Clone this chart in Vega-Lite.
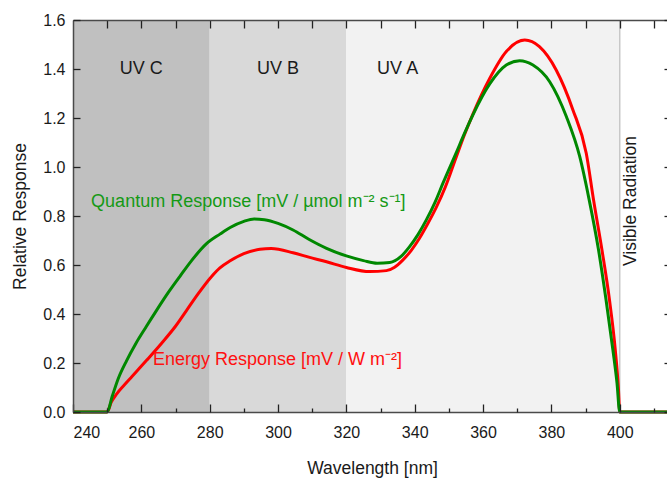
{
  "$schema": "https://vega.github.io/schema/vega-lite/v6.json",
  "width": 598,
  "height": 392,
  "autosize": {"type": "none"},
  "padding": {"left": 73, "top": 20, "right": 0, "bottom": 66},
  "background": "white",
  "config": {
    "view": {"stroke": null},
    "font": "Liberation Sans",
    "axis": {
      "domainColor": "#4a4a4a",
      "domainWidth": 1.5,
      "tickColor": "#222222",
      "tickWidth": 1.3,
      "labelFont": "Liberation Sans",
      "labelFontSize": 16,
      "labelColor": "#1a1a1a",
      "titleFont": "Liberation Sans",
      "titleFontSize": 17.5,
      "titleFontWeight": "normal",
      "titleColor": "#1a1a1a",
      "grid": false
    }
  },
  "datasets": {
    "bands": [
      {"band": "UV C", "start": 240, "end": 280},
      {"band": "UV B", "start": 280, "end": 320},
      {"band": "UV A", "start": 320, "end": 400}
    ],
    "energy": [
      {"nm": 240, "val": 0}, {"nm": 250, "val": 0}, {"nm": 251.2, "val": 0.04}, {"nm": 252.8, "val": 0.074},
      {"nm": 255, "val": 0.11}, {"nm": 257.2, "val": 0.144}, {"nm": 261.6, "val": 0.212}, {"nm": 266, "val": 0.282},
      {"nm": 270, "val": 0.35}, {"nm": 273.2, "val": 0.414}, {"nm": 276.6, "val": 0.482}, {"nm": 280.5, "val": 0.552},
      {"nm": 283, "val": 0.588}, {"nm": 286, "val": 0.617}, {"nm": 290, "val": 0.646}, {"nm": 294.7, "val": 0.664},
      {"nm": 298, "val": 0.667}, {"nm": 304.4, "val": 0.65}, {"nm": 309, "val": 0.632}, {"nm": 314.2, "val": 0.613},
      {"nm": 320, "val": 0.59}, {"nm": 326.8, "val": 0.573}, {"nm": 331.7, "val": 0.577}, {"nm": 334, "val": 0.59},
      {"nm": 336.5, "val": 0.62}, {"nm": 339, "val": 0.66}, {"nm": 341.4, "val": 0.709}, {"nm": 343.8, "val": 0.768},
      {"nm": 346.3, "val": 0.835}, {"nm": 349, "val": 0.92}, {"nm": 352, "val": 1.035}, {"nm": 354.5, "val": 1.13},
      {"nm": 357, "val": 1.215}, {"nm": 361.9, "val": 1.36}, {"nm": 366.8, "val": 1.471}, {"nm": 372.2, "val": 1.518},
      {"nm": 376.5, "val": 1.491}, {"nm": 381.4, "val": 1.396}, {"nm": 386.3, "val": 1.233}, {"nm": 390.2, "val": 1.056},
      {"nm": 392.4, "val": 0.86}, {"nm": 394.8, "val": 0.661}, {"nm": 397, "val": 0.457}, {"nm": 398.7, "val": 0.253},
      {"nm": 399.6, "val": 0.1}, {"nm": 400, "val": 0}, {"nm": 415, "val": 0}
    ],
    "quantum": [
      {"nm": 240, "val": 0}, {"nm": 250, "val": 0}, {"nm": 251.5, "val": 0.065}, {"nm": 253.2, "val": 0.135},
      {"nm": 255.7, "val": 0.21}, {"nm": 258.4, "val": 0.28}, {"nm": 261.5, "val": 0.35}, {"nm": 264.5, "val": 0.416},
      {"nm": 268, "val": 0.49}, {"nm": 271.3, "val": 0.554}, {"nm": 274.7, "val": 0.618}, {"nm": 279, "val": 0.686},
      {"nm": 283, "val": 0.726}, {"nm": 286, "val": 0.753}, {"nm": 290, "val": 0.778}, {"nm": 293, "val": 0.788},
      {"nm": 296, "val": 0.785}, {"nm": 300, "val": 0.77}, {"nm": 304.4, "val": 0.743}, {"nm": 309, "val": 0.705},
      {"nm": 314.2, "val": 0.668}, {"nm": 320, "val": 0.637}, {"nm": 325, "val": 0.618}, {"nm": 329, "val": 0.607},
      {"nm": 332.7, "val": 0.61}, {"nm": 336, "val": 0.635}, {"nm": 338.5, "val": 0.675}, {"nm": 341, "val": 0.725},
      {"nm": 343.4, "val": 0.784}, {"nm": 346, "val": 0.858}, {"nm": 348.3, "val": 0.935}, {"nm": 352.2, "val": 1.06},
      {"nm": 354.5, "val": 1.135}, {"nm": 357, "val": 1.212}, {"nm": 361.9, "val": 1.338}, {"nm": 366.8, "val": 1.416},
      {"nm": 370.7, "val": 1.434}, {"nm": 374.6, "val": 1.416}, {"nm": 379.5, "val": 1.348}, {"nm": 384.4, "val": 1.205},
      {"nm": 388.3, "val": 1.042}, {"nm": 391, "val": 0.87}, {"nm": 393.8, "val": 0.661}, {"nm": 396, "val": 0.457},
      {"nm": 398, "val": 0.253}, {"nm": 399.2, "val": 0.118}, {"nm": 400, "val": 0}, {"nm": 415, "val": 0}
    ]
  },
  "layer": [
    {
      "data": {"name": "bands"},
      "mark": {"type": "rect"},
      "encoding": {
        "x": {
          "field": "start", "type": "quantitative",
          "scale": {"domain": [240, 415], "nice": false, "zero": false},
          "axis": {
            "orient": "bottom", "zindex": 1,
            "values": [240, 260, 280, 300, 320, 340, 360, 380, 400],
            "ticks": false, "labelPadding": 12,
            "title": "Wavelength [nm]", "titleY": 56, "titleBaseline": "middle", "domain": true
          }
        },
        "x2": {"field": "end"},
        "color": {
          "field": "band", "type": "nominal",
          "scale": {"domain": ["UV C", "UV B", "UV A"], "range": ["#c0c0c0", "#d9d9d9", "#f2f2f2"]},
          "legend": null
        }
      }
    },
    {
      "data": {"values": [{"edge": 400}]},
      "mark": {"type": "rule", "color": "#c8c8c8", "strokeWidth": 1.5},
      "encoding": {
        "x": {
          "field": "edge", "type": "quantitative",
          "scale": {"domain": [240, 415], "nice": false, "zero": false},
          "axis": {
            "orient": "top", "zindex": 1,
            "values": [250, 260, 270, 280, 290, 300, 310, 320, 330, 340, 350, 360, 370, 380, 390, 400, 410],
            "tickSize": -8, "labels": false, "title": null, "domain": true
          }
        }
      }
    },
    {
      "data": {"name": "energy"},
      "mark": {"type": "line", "color": "#ff0000", "strokeWidth": 3, "interpolate": "monotone"},
      "encoding": {
        "x": {
          "field": "nm", "type": "quantitative",
          "scale": {"domain": [240, 415], "nice": false, "zero": false},
          "axis": {
            "orient": "bottom", "zindex": 1,
            "values": [250, 270, 290, 310, 330, 350, 370, 390, 410],
            "tickSize": -4, "labels": false, "title": null, "domain": false
          }
        },
        "y": {
          "field": "val", "type": "quantitative",
          "scale": {"domain": [0, 1.6], "nice": false},
          "axis": {
            "orient": "left", "zindex": 1,
            "values": [0, 0.2, 0.4, 0.6, 0.8, 1.0, 1.2, 1.4, 1.6],
            "format": ".1f", "ticks": false, "labelPadding": 8,
            "title": "Relative Response", "titleX": -53, "titleBaseline": "middle", "domain": true
          }
        }
      }
    },
    {
      "data": {"name": "quantum"},
      "mark": {"type": "line", "color": "#008800", "strokeWidth": 3, "interpolate": "monotone"},
      "encoding": {
        "x": {
          "field": "nm", "type": "quantitative",
          "scale": {"domain": [240, 415], "nice": false, "zero": false},
          "axis": {
            "orient": "bottom", "zindex": 1,
            "values": [240, 260, 280, 300, 320, 340, 360, 380, 400],
            "tickSize": -8, "labels": false, "title": null, "domain": false
          }
        },
        "y": {
          "field": "val", "type": "quantitative",
          "scale": {"domain": [0, 1.6], "nice": false},
          "axis": {
            "orient": "right", "zindex": 1,
            "values": [0, 0.2, 0.4, 0.6, 0.8, 1.0, 1.2, 1.4, 1.6],
            "tickSize": -7, "labels": false, "title": null, "domain": true
          }
        }
      }
    },
    {
      "data": {"values": [
        {"label": "UV C", "x": 260, "y": 1.4},
        {"label": "UV B", "x": 300, "y": 1.4},
        {"label": "UV A", "x": 335, "y": 1.4}
      ]},
      "mark": {"type": "text", "font": "Liberation Sans", "fontSize": 18, "color": "#1a1a1a", "align": "center", "baseline": "middle"},
      "encoding": {
        "x": {"field": "x", "type": "quantitative", "scale": {"domain": [240, 415], "nice": false, "zero": false}, "axis": null},
        "y": {
          "field": "y", "type": "quantitative", "scale": {"domain": [0, 1.6], "nice": false},
          "axis": {
            "orient": "left", "zindex": 1,
            "values": [0, 0.2, 0.4, 0.6, 0.8, 1.0, 1.2, 1.4, 1.6],
            "tickSize": -7, "labels": false, "title": null, "domain": false
          }
        },
        "text": {"field": "label"}
      }
    },
    {
      "data": {"values": [{"label": "Quantum Response [mV / µmol m⁻² s⁻¹]", "x": 245.3, "y": 0.858}]},
      "mark": {"type": "text", "font": "Liberation Sans", "fontSize": 18, "align": "left", "baseline": "middle", "color": "#159915"},
      "encoding": {
        "x": {"field": "x", "type": "quantitative", "scale": {"domain": [240, 415], "nice": false, "zero": false}, "axis": null},
        "y": {"field": "y", "type": "quantitative", "scale": {"domain": [0, 1.6], "nice": false}, "axis": null},
        "text": {"field": "label"}
      }
    },
    {
      "data": {"values": [{"label": "Energy Response [mV / W m⁻²]", "x": 263.4, "y": 0.212}]},
      "mark": {"type": "text", "font": "Liberation Sans", "fontSize": 18, "align": "left", "baseline": "middle", "color": "#ff1010"},
      "encoding": {
        "x": {"field": "x", "type": "quantitative", "scale": {"domain": [240, 415], "nice": false, "zero": false}, "axis": null},
        "y": {"field": "y", "type": "quantitative", "scale": {"domain": [0, 1.6], "nice": false}, "axis": null},
        "text": {"field": "label"}
      }
    },
    {
      "data": {"values": [{"label": "Visible Radiation", "x": 403.4, "y": 0.861}]},
      "mark": {"type": "text", "font": "Liberation Sans", "fontSize": 17.5, "color": "#1a1a1a", "align": "center", "baseline": "middle", "angle": 270},
      "encoding": {
        "x": {"field": "x", "type": "quantitative", "scale": {"domain": [240, 415], "nice": false, "zero": false}, "axis": null},
        "y": {"field": "y", "type": "quantitative", "scale": {"domain": [0, 1.6], "nice": false}, "axis": null},
        "text": {"field": "label"}
      }
    }
  ],
  "resolve": {"axis": {"x": "independent", "y": "independent"}}
}
